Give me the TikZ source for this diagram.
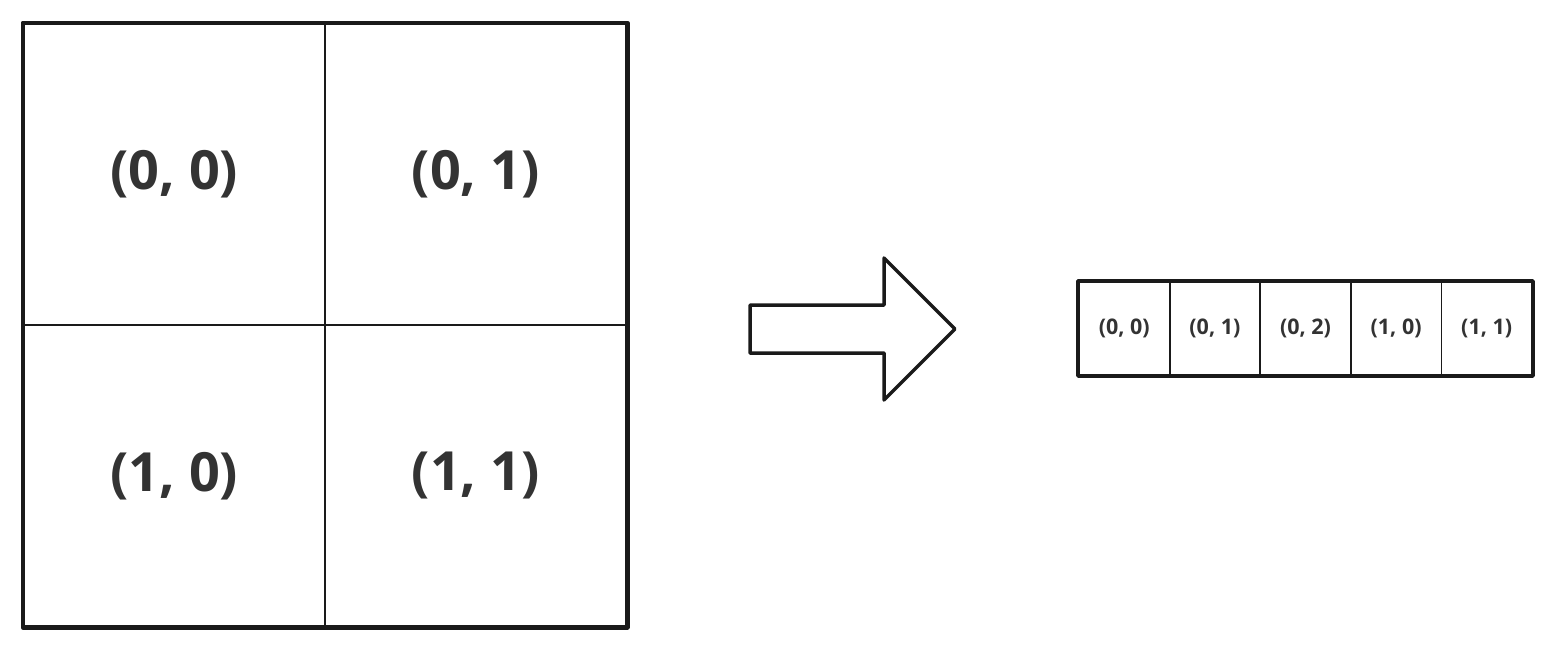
\documentclass[tikz,border=0pt]{standalone}
\usepackage{fontspec}
\setmainfont{Open Sans}
\definecolor{linec}{HTML}{1A1A1A}
\definecolor{textc}{HTML}{333333}
\tikzset{
  bigcell/.style={draw=linec, line width=1.5pt, minimum width=301.5pt, minimum height=301.5pt, inner sep=0pt, font=\fontsize{54}{60}\selectfont\bfseries, text=textc},
  smallcell/.style={draw=linec, line width=1.8pt, minimum width=90.6pt, minimum height=93pt, inner sep=0pt, font=\fontsize{21.5}{24}\selectfont\bfseries, text=textc},
  outer/.style={draw=linec, line width=4.5pt, line join=round},
  bigarrow/.style={draw=linec, line width=3.5pt, line join=round, fill=white}
}
\begin{document}
\begin{tikzpicture}[x=1pt, y=-1pt]
\useasboundingbox (0,0) rectangle (1556,649);
% left 2x2 grid
\node[bigcell] (c00) at (174.25,174.25) {(0, 0)};
\node[bigcell] (c01) at (475.75,174.25) {(0, 1)};
\node[bigcell] (c10) at (174.25,475.75) {(1, 0)};
\node[bigcell] (c11) at (475.75,475.75) {(1, 1)};
\draw[outer] (c00.north west) rectangle (c11.south east);
% arrow
\draw[bigarrow] (750,305) -- (884,305) -- (884,258) -- (955,329) -- (884,400) -- (884,353) -- (750,353) -- cycle;
% right strip
\node[smallcell] (s0) at (1124.3,328.5) {(0, 0)};
\node[smallcell] (s1) at (1214.9,328.5) {(0, 1)};
\node[smallcell] (s2) at (1305.5,328.5) {(0, 2)};
\node[smallcell] (s3) at (1396.1,328.5) {(1, 0)};
\node[smallcell] (s4) at (1486.7,328.5) {(1, 1)};
\draw[outer, line width=4pt] (s0.north west) rectangle (s4.south east);
\end{tikzpicture}
\end{document}
